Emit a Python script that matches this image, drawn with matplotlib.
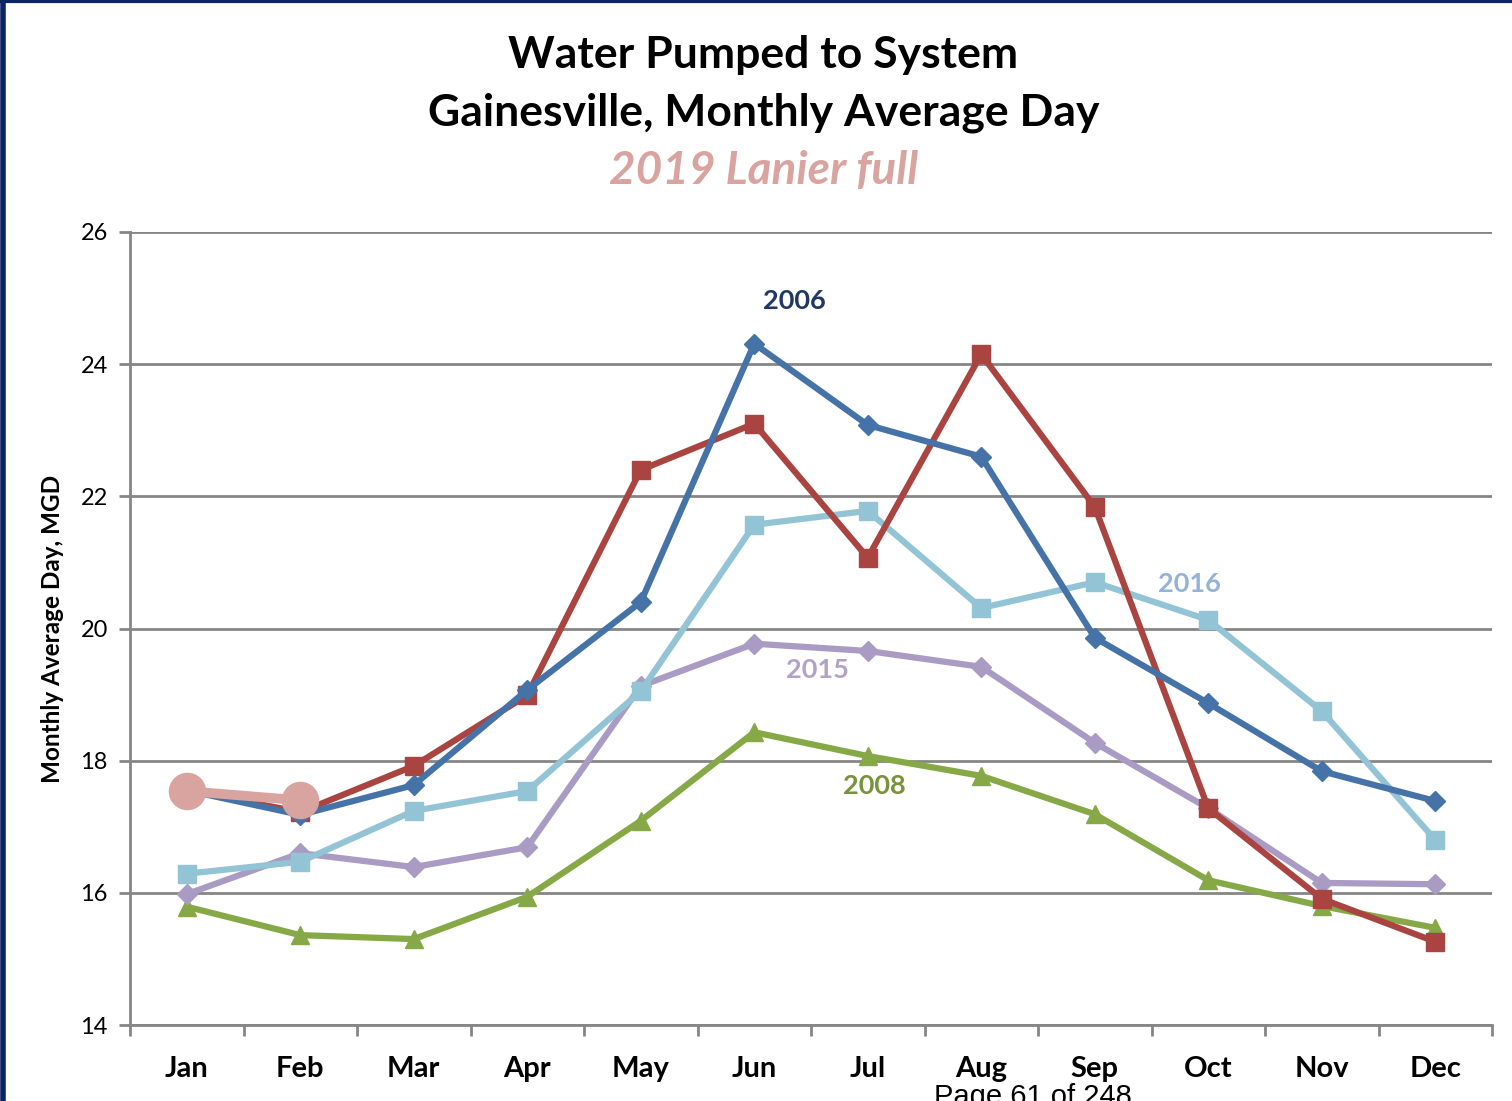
import matplotlib
matplotlib.use("Agg")
from matplotlib import pyplot as plt
from matplotlib.lines import Line2D

plt.rcParams['font.family'] = ['Lato', 'DejaVu Sans']

months = ['Jan', 'Feb', 'Mar', 'Apr', 'May', 'Jun',
          'Jul', 'Aug', 'Sep', 'Oct', 'Nov', 'Dec']

y2006 = [17.55, 17.18, 17.63, 19.07, 20.40, 24.31, 23.08, 22.60, 19.86, 18.87, 17.84, 17.39]
y2007 = [17.56, 17.22, 17.92, 18.99, 22.40, 23.10, 21.07, 24.15, 21.84, 17.28, 15.91, 15.26]
y2016 = [16.29, 16.47, 17.24, 17.54, 19.05, 21.57, 21.78, 20.31, 20.70, 20.13, 18.75, 16.80]
y2015 = [15.98, 16.60, 16.39, 16.69, 19.13, 19.77, 19.66, 19.42, 18.27, 17.28, 16.15, 16.13]
y2008 = [15.79, 15.36, 15.30, 15.94, 17.09, 18.43, 18.07, 17.77, 17.19, 16.19, 15.80, 15.47]
y2019 = [17.54, 17.40]

yticks = [14, 16, 18, 20, 22, 24, 26]

fig = plt.figure(figsize=(15.12, 11.01), dpi=100)
ax = fig.add_axes([130 / 1512, 1 - 1025 / 1101, (1492 - 130) / 1512, (1025 - 232) / 1101])

x = list(range(len(months)))
lw = 4.5
ax.plot(x, y2008, color='#86A846', lw=lw, marker='^', ms=13, zorder=3)
ax.plot(x, y2015, color='#A99BC3', lw=lw, marker='D', ms=10, zorder=3)
ax.plot(x, y2016, color='#93C4D6', lw=lw, marker='s', ms=13, zorder=3)
ax.plot(x, y2007, color='#AA4441', lw=lw, marker='s', ms=13, zorder=4)
ax.plot(x, y2006, color='#4572A7', lw=lw, marker='D', ms=10, zorder=4)
ax.plot(x[:len(y2019)], y2019, color='#D9A3A0', lw=7, marker='o', ms=26, zorder=5)

ax.set_xlim(-0.5, 11.5)
ax.set_ylim(14, 26)
ax.set_yticks(yticks)
ax.set_yticklabels([str(v) for v in yticks], fontsize=17)
ax.set_xticks(x)
ax.set_xticklabels(months, fontsize=21, fontweight='bold')
ax.set_xticks([i + 0.5 for i in range(-1, 12)], minor=True)
ax.tick_params(axis='x', which='major', length=0, pad=22)
ax.tick_params(axis='x', which='minor', length=8, width=2, color='#868686')
ax.tick_params(axis='y', length=8, width=2, color='#868686', pad=8)
ax.grid(axis='y', color='#868686', lw=2)
ax.set_axisbelow(True)
for s in ['top', 'right']:
    ax.spines[s].set_visible(False)
for s in ['left', 'bottom']:
    ax.spines[s].set_color('#868686')
    ax.spines[s].set_linewidth(2)

ax.set_ylabel('Monthly Average Day, MGD', fontsize=17.5, fontweight='bold', labelpad=12)

ax.text(5.35, 24.96, '2006', color='#1F3864', fontsize=19.5, fontweight='bold', ha='center', va='center')
ax.text(8.83, 20.67, '2016', color='#95B3D7', fontsize=19.5, fontweight='bold', ha='center', va='center')
ax.text(5.56, 19.37, '2015', color='#B3A2C7', fontsize=19.5, fontweight='bold', ha='center', va='center')
ax.text(6.06, 17.62, '2008', color='#77933C', fontsize=19.5, fontweight='bold', ha='center', va='center')

fig.text(0.505, 1 - 55 / 1101, 'Water Pumped to System', fontsize=32, fontweight='bold',
         ha='center', va='center')
fig.text(0.505, 1 - 113 / 1101, 'Gainesville, Monthly Average Day', fontsize=32, fontweight='bold',
         ha='center', va='center')
fig.text(0.505, 1 - 171 / 1101, '2019 Lanier full', fontsize=33, fontweight='bold', style='italic',
         color='#D9A3A0', ha='center', va='center')
fig.text(1033 / 1512, 1 - 1083 / 1101, 'Page 61 of 248', fontsize=21, family='Liberation Sans',
         ha='center', va='top')

fig.add_artist(Line2D([0.002, 0.002], [0, 1], transform=fig.transFigure, color='#0B2463', lw=4))
fig.add_artist(Line2D([0, 1], [0.999, 0.999], transform=fig.transFigure, color='#0B2463', lw=3))

fig.savefig('out.png', dpi=100)
